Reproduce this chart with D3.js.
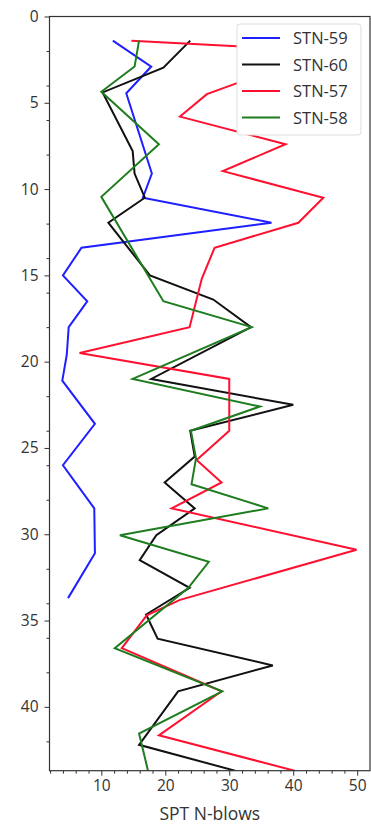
<!DOCTYPE html>
<html>
<head>
<meta charset="utf-8">
<script src="https://cdn.jsdelivr.net/npm/d3@7"></script>
<style>
  body { margin: 0; background: #fff; }
  svg { font-family: "Open Sans", sans-serif; }
</style>
</head>
<body>
<div id="chart"></div>
<script>
// SPT data: depth (m) and N-blows for each station
var depth59 = [1.4, 2.9, 4.45, 9.1, 10.5, 11.95, 13.4, 15.0, 16.5, 18.0, 19.6, 21.1, 23.6, 26.0, 28.5, 31.1, 33.7];
var blows59 = [11.8, 17.8, 13.9, 17.9, 16.5, 36.6, 6.9, 4.0, 7.8, 4.9, 4.6, 3.9, 9.0, 4.0, 8.9, 9.0, 4.8];

var depth60 = [1.4, 2.97, 4.4, 7.8, 9.1, 10.5, 11.95, 15.0, 16.4, 18.0, 21.0, 22.5, 24.0, 25.5, 27.0, 28.5, 30.06, 31.5, 33.1, 34.65, 36.05, 37.6, 39.1, 42.2, 43.7];
var blows60 = [23.9, 19.7, 10.2, 14.9, 15.2, 16.8, 11.1, 17.6, 27.5, 33.4, 17.8, 40.0, 23.9, 24.6, 19.9, 24.6, 18.6, 16.0, 23.8, 17.0, 18.8, 36.8, 22.0, 15.9, 30.9];

var depth57 = [1.4, 2.0, 4.5, 5.8, 7.4, 8.96, 10.5, 11.95, 13.4, 15.2, 18.0, 19.5, 21.0, 24.0, 25.7, 27.0, 28.5, 30.9, 33.8, 34.7, 36.6, 39.1, 41.65, 43.7];
var blows57 = [14.7, 45.0, 26.5, 22.3, 38.8, 29.0, 44.7, 40.8, 27.7, 25.7, 23.8, 6.6, 30.0, 30.0, 24.9, 28.8, 21.0, 49.9, 22.3, 17.1, 13.2, 28.8, 19.0, 40.2];

var depth58 = [1.4, 2.9, 4.36, 7.4, 10.45, 16.5, 18.0, 21.0, 22.6, 24.0, 25.6, 27.1, 28.5, 30.06, 31.6, 33.1, 36.6, 39.1, 41.55, 43.7];
var blows58 = [15.9, 15.2, 10.0, 19.0, 10.0, 19.7, 33.5, 14.9, 34.8, 24.0, 24.8, 24.1, 36.1, 12.9, 26.8, 23.6, 12.1, 28.9, 15.9, 17.3];

var stations = ["STN-59", "STN-60", "STN-57", "STN-58"];
var xTicks = [10, 20, 30, 40, 50];
var yTicks = [0, 5, 10, 15, 20, 25, 30, 35, 40];
var xLabel = "SPT N-blows";

var series = [
  {name: stations[0], depth: depth59, blows: blows59, color: "#1f1fff"},
  {name: stations[1], depth: depth60, blows: blows60, color: "#111111"},
  {name: stations[2], depth: depth57, blows: blows57, color: "#ff1030"},
  {name: stations[3], depth: depth58, blows: blows58, color: "#1e7d1e"}
];

// set the dimensions and margins of the graph
var margin = {top: 16.5, right: 1, bottom: 56.3, left: 49.5},
    width = 371 - margin.left - margin.right,
    height = 827 - margin.top - margin.bottom;

var svg = d3.select("#chart")
  .append("svg")
    .attr("width", 371)
    .attr("height", 827)
  .append("g")
    .attr("transform", "translate(" + margin.left + "," + margin.top + ")");

var x = d3.scaleLinear().domain([1.9, 52]).range([0, width]);
var y = d3.scaleLinear().domain([0, 43.7]).range([0, height]);

svg.append("clipPath").attr("id", "clip")
  .append("rect").attr("width", width).attr("height", height);

// minor ticks every 2 units
var xMinor = d3.range(2, 52, 2).filter(function(v) { return v % 10 != 0; });
var yMinor = d3.range(2, 44, 2).filter(function(v) { return v % 5 != 0; });

svg.append("g")
  .attr("transform", "translate(0," + height + ")")
  .call(d3.axisBottom(x).tickValues(xMinor).tickSize(3).tickFormat(""));
svg.append("g")
  .call(d3.axisLeft(y).tickValues(yMinor).tickSize(3).tickFormat(""));

var xAxis = svg.append("g")
  .attr("transform", "translate(0," + height + ")")
  .call(d3.axisBottom(x).tickValues(xTicks).tickSize(5).tickPadding(4).tickSizeOuter(0));
var yAxis = svg.append("g")
  .call(d3.axisLeft(y).tickValues(yTicks).tickSize(5).tickPadding(6).tickSizeOuter(0));

svg.selectAll(".tick line").attr("stroke", "#333");
svg.selectAll(".domain").remove();
svg.selectAll(".tick text")
  .attr("font-family", "Open Sans")
  .attr("font-size", 15.5)
  .attr("fill", "#333");

// lines
var line = d3.line()
  .x(function(d) { return x(d[1]); })
  .y(function(d) { return y(d[0]); });

svg.append("g").attr("clip-path", "url(#clip)")
  .selectAll("path")
  .data(series)
  .enter()
  .append("path")
    .attr("fill", "none")
    .attr("stroke", function(d) { return d.color; })
    .attr("stroke-width", 2)
    .attr("stroke-linejoin", "miter")
    .attr("d", function(d) { return line(d3.zip(d.depth, d.blows)); });

// frame
svg.append("rect")
  .attr("width", width).attr("height", height)
  .attr("fill", "none").attr("stroke", "#333").attr("stroke-width", 1.2);

// x label
svg.append("text")
  .attr("x", width / 2)
  .attr("y", height + 49)
  .attr("text-anchor", "middle")
  .attr("font-size", 17.5)
  .attr("fill", "#333")
  .text(xLabel);

// legend (opaque, hides the lines behind it)
var legend = svg.append("g").attr("transform", "translate(" + (237 - margin.left) + "," + (24 - margin.top) + ")");
legend.append("rect")
  .attr("width", 124).attr("height", 111).attr("rx", 3)
  .attr("fill", "#ffffff")
  .attr("stroke", "#ddd");

var item = legend.selectAll(".item")
  .data(series)
  .enter()
  .append("g")
    .attr("transform", function(d, i) { return "translate(0," + (14 + i * 26.5) + ")"; });
item.append("line")
  .attr("x1", 5).attr("x2", 43)
  .attr("stroke", function(d) { return d.color; })
  .attr("stroke-width", 2);
item.append("text")
  .attr("x", 56).attr("y", 6)
  .attr("font-size", 16.5)
  .attr("fill", "#333")
  .text(function(d) { return d.name; });
</script>
</body>
</html>
